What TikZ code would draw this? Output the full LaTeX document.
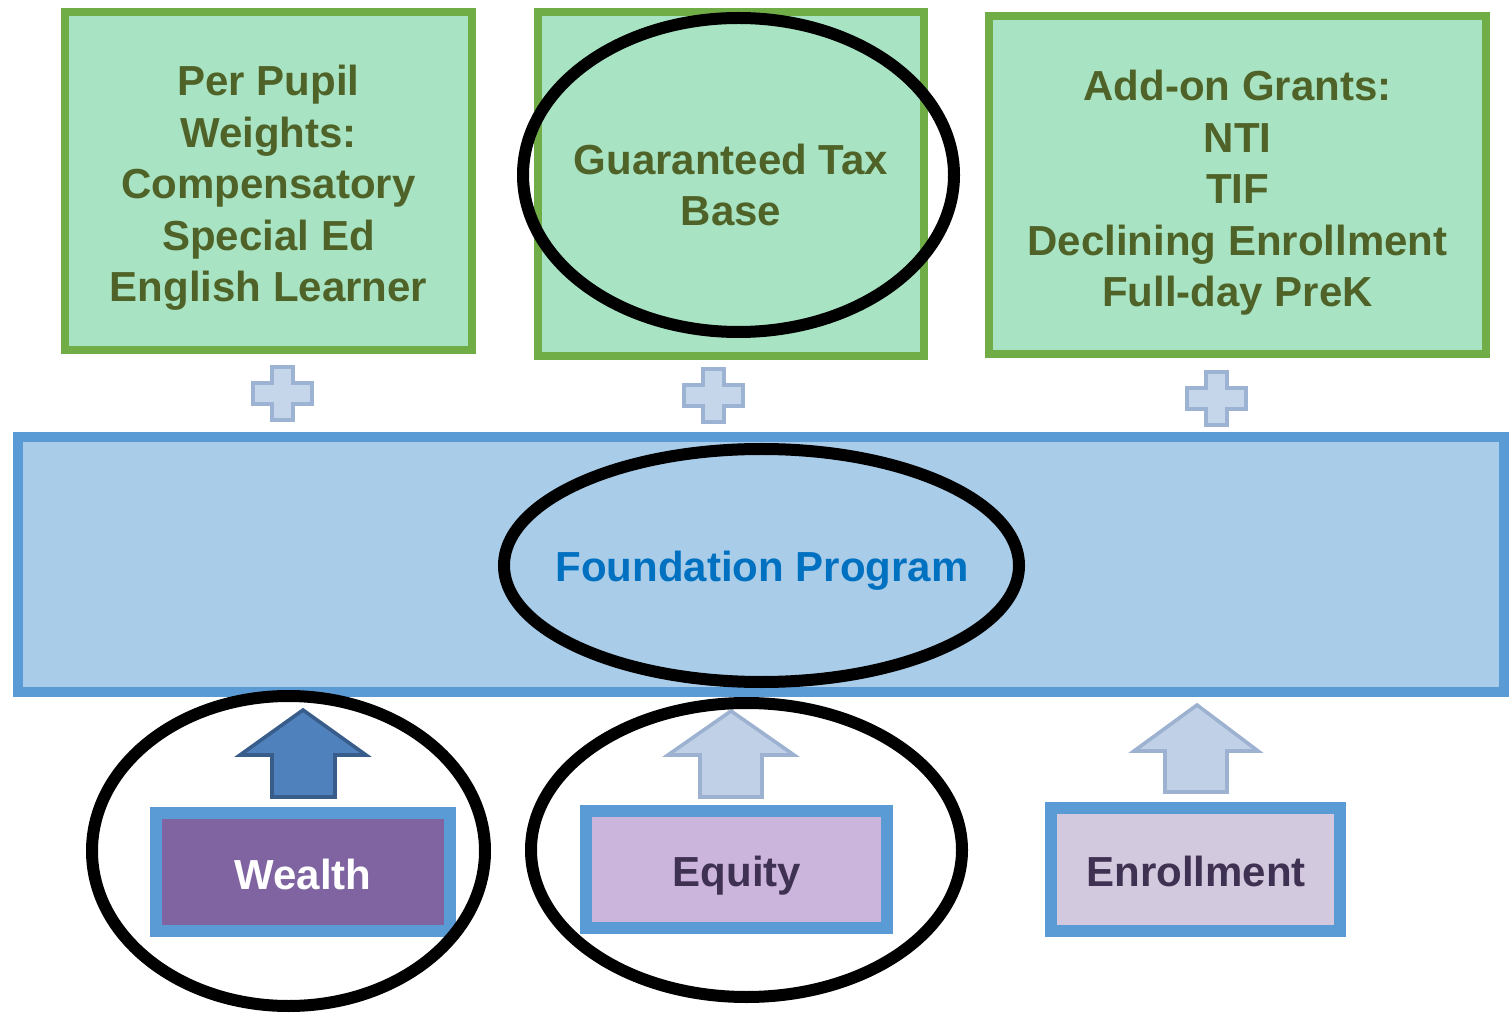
\documentclass[tikz,border=0pt]{standalone}
\usepackage{fontspec}
\setmainfont{Liberation Sans}
\definecolor{gfill}{HTML}{A8E4C3}
\definecolor{gline}{HTML}{70AD47}
\definecolor{gtext}{HTML}{4F6228}
\definecolor{bfill}{HTML}{A9CDE9}
\definecolor{bline}{HTML}{5B9BD5}
\definecolor{btext}{HTML}{0070C0}
\definecolor{wfill}{HTML}{8064A2}
\definecolor{efill}{HTML}{CCB5DC}
\definecolor{nfill}{HTML}{D3C9DF}
\definecolor{ptext}{HTML}{3F3151}
\definecolor{darrfill}{HTML}{4F81BD}
\definecolor{darrline}{HTML}{385D8A}
\definecolor{larrfill}{HTML}{C0D1E7}
\definecolor{larrline}{HTML}{9CB2D0}
\definecolor{plusfill}{HTML}{C5D5EA}
\definecolor{plusline}{HTML}{9DB3D3}
\begin{document}
\begin{tikzpicture}[x=0.5pt,y=-0.5pt,
  txt/.style={font=\bfseries\fontsize{21}{25.75}\selectfont, align=center, inner sep=0pt},
  topbox/.style={draw=gline, fill=gfill, line width=4pt, inner sep=0pt},
  foundbox/.style={draw=bline, fill=bfill, line width=5pt, inner sep=0pt},
  botbox/.style={draw=bline, line width=6pt, inner sep=0pt},
  ring/.style={draw=black, line width=6pt},
  darrow/.style={draw=darrline, fill=darrfill, line width=1.8pt, line join=miter},
  larrow/.style={draw=larrline, fill=larrfill, line width=1.8pt, line join=miter},
  plussign/.style={draw=plusline, fill=plusfill, line width=2pt, line join=miter}
]
\useasboundingbox (0,0) rectangle (1509,1015);

% top boxes
\node[topbox, minimum width=203.5pt, minimum height=169pt] (pp) at (268.5,181) {};
\node[txt, text=gtext] (pptxt) at (268.5,188)
  {Per Pupil\\Weights:\\Compensatory\\Special Ed\\English Learner};
\node[topbox, minimum width=193pt, minimum height=172pt] (gtb) at (731,184) {};
\node[txt, text=gtext] (gtbtxt) at (731,185) {Guaranteed Tax\\Base};
\node[topbox, minimum width=248.5pt, minimum height=169pt] (addon) at (1237.5,185) {};
\node[txt, text=gtext] (addontxt) at (1237.5,193)
  {Add-on Grants:\\NTI\\TIF\\Declining Enrollment\\Full-day PreK};

% plus signs
\foreach \n/\cx/\cy in {p1/282.5/393.5, p2/713/396, p3/1216/399}{
  \coordinate (\n) at (\cx,\cy);
  \draw[plussign] ([shift={(-29.5,-10.5)}]\n) -- ([shift={(-10.5,-10.5)}]\n) -- ([shift={(-10.5,-26.5)}]\n)
    -- ([shift={(10.5,-26.5)}]\n) -- ([shift={(10.5,-10.5)}]\n) -- ([shift={(29.5,-10.5)}]\n)
    -- ([shift={(29.5,10.5)}]\n) -- ([shift={(10.5,10.5)}]\n) -- ([shift={(10.5,26.5)}]\n)
    -- ([shift={(-10.5,26.5)}]\n) -- ([shift={(-10.5,10.5)}]\n) -- ([shift={(-29.5,10.5)}]\n) -- cycle;
}

% foundation
\node[foundbox, minimum width=743pt, minimum height=127.5pt] (found) at (761,564.5) {};
\node[txt, text=btext] (foundtxt) at (762,571) {Foundation Program};

% bottom boxes
\node[botbox, fill=wfill, minimum width=147pt, minimum height=59pt] (wealth) at (303,872) {};
\node[txt, text=white] (wealthtxt) at (303,874) {Wealth};
\node[botbox, fill=efill, minimum width=150.5pt, minimum height=58.5pt] (equity) at (736.5,869.5) {};
\node[txt, text=ptext] (equitytxt) at (737,876) {Equity};
\node[botbox, fill=nfill, minimum width=144.5pt, minimum height=61.5pt] (enroll) at (1195.5,869.5) {};
\node[txt, text=ptext] (enrolltxt) at (1196,871) {Enrollment};

% arrows
\draw[darrow] (303,710) -- (366,755) -- (335,755) -- (335,797) -- (272,797) -- (272,755) -- (240,755) -- cycle;
\draw[larrow] (731,711) -- (794,755) -- (762,755) -- (762,797) -- (700,797) -- (700,755) -- (668,755) -- cycle;
\draw[larrow] (1197,705) -- (1258,751) -- (1227,751) -- (1227,792) -- (1165,792) -- (1165,751) -- (1134,751) -- cycle;

% ellipses
\draw[ring] (738.5,175) ellipse [x radius=107.75pt, y radius=78.5pt];
\draw[ring] (761.5,565.5) ellipse [x radius=128.75pt, y radius=58.25pt];
\draw[ring] (288.5,851) ellipse [x radius=98.25pt, y radius=77.5pt];
\draw[ring] (746.5,850) ellipse [x radius=107.75pt, y radius=73.5pt];
\end{tikzpicture}
\end{document}
